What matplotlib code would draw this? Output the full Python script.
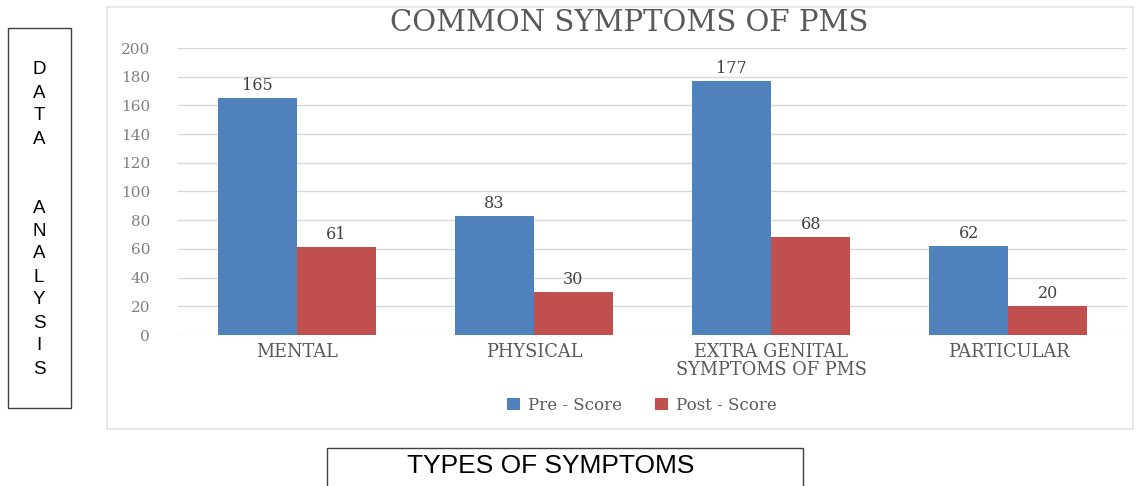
import numpy as np
import matplotlib
matplotlib.use("Agg")
import matplotlib.pyplot as plt
from matplotlib.patches import Rectangle

categories = ["MENTAL", "PHYSICAL", "EXTRA GENITAL\nSYMPTOMS OF PMS", "PARTICULAR"]
pre_score = [165, 83, 177, 62]
post_score = [61, 30, 68, 20]
series_names = ["Pre - Score", "Post - Score"]
y_ticks = [0, 20, 40, 60, 80, 100, 120, 140, 160, 180, 200]

W, H = 1137, 486
blue = "#4f81bd"
red = "#c0504d"
serif = "DejaVu Serif"


def fx(x):
    return x / W


def fy(y):
    return 1 - y / H


fig = plt.figure(figsize=(W / 100, H / 100), dpi=100)
fig.patch.set_facecolor("white")

# chart panel border
fig.patches.append(Rectangle((fx(107), fy(429)), fx(1133) - fx(107), fy(7) - fy(429),
                             transform=fig.transFigure, fill=False,
                             edgecolor="#e3e3e3", linewidth=1.2))

ax = fig.add_axes([fx(178), fy(335), fx(1127) - fx(178), fy(48) - fy(335)])
x = np.arange(len(categories))
bw = 0.333
b1 = ax.bar(x - bw / 2, pre_score, bw, color=blue, label=series_names[0], zorder=3)
b2 = ax.bar(x + bw / 2, post_score, bw, color=red, label=series_names[1], zorder=3)

for bars in (b1, b2):
    ax.bar_label(bars, padding=3, fontsize=11.5, color="#404040", family=serif)

ax.set_xlim(-0.5, len(categories) - 0.5)
ax.set_ylim(0, 200)
ax.set_yticks(y_ticks)
ax.set_xticks(x)
ax.set_xticklabels(categories, fontsize=12.8, color="#595959", family=serif,
                   linespacing=1.0)
ax.tick_params(axis="x", length=0, pad=6)
ax.tick_params(axis="y", length=0, pad=20, labelsize=11, labelcolor="#808080")
for lbl in ax.get_yticklabels():
    lbl.set_family(serif)
ax.grid(axis="y", color="#d9d9d9", linewidth=1, zorder=0)
for s in ax.spines.values():
    s.set_visible(False)

fig.text(fx(629), fy(23), "COMMON SYMPTOMS OF PMS", ha="center", va="center",
         fontsize=21, color="#595959", family=serif)

leg = fig.legend(handles=[b1, b2], loc="center", bbox_to_anchor=(fx(642), fy(405)),
                 ncol=2, frameon=False, handlelength=0.75, handleheight=0.75,
                 handletextpad=0.5, columnspacing=2.0,
                 prop={"family": serif, "size": 12})
for t in leg.get_texts():
    t.set_color("#595959")

# left box with vertical text
fig.patches.append(Rectangle((fx(8), fy(408)), fx(71) - fx(8), fy(28) - fy(408),
                             transform=fig.transFigure, fill=False,
                             edgecolor="#404040", linewidth=1))
letters = "DATA  ANALYSIS"
for i, ch in enumerate(letters):
    if ch != " ":
        fig.text(fx(39), fy(70 + 23 * i), ch, ha="center", va="center",
                 fontsize=13.5, family="Liberation Sans", color="black")

# bottom box
fig.patches.append(Rectangle((fx(327), fy(492)), fx(803) - fx(327), fy(448) - fy(492),
                             transform=fig.transFigure, fill=False,
                             edgecolor="#404040", linewidth=1))
fig.text(fx(551), fy(466), "TYPES OF SYMPTOMS", ha="center", va="center",
         fontsize=19, family="Liberation Sans", color="black")

fig.savefig("out.png", dpi=100)
